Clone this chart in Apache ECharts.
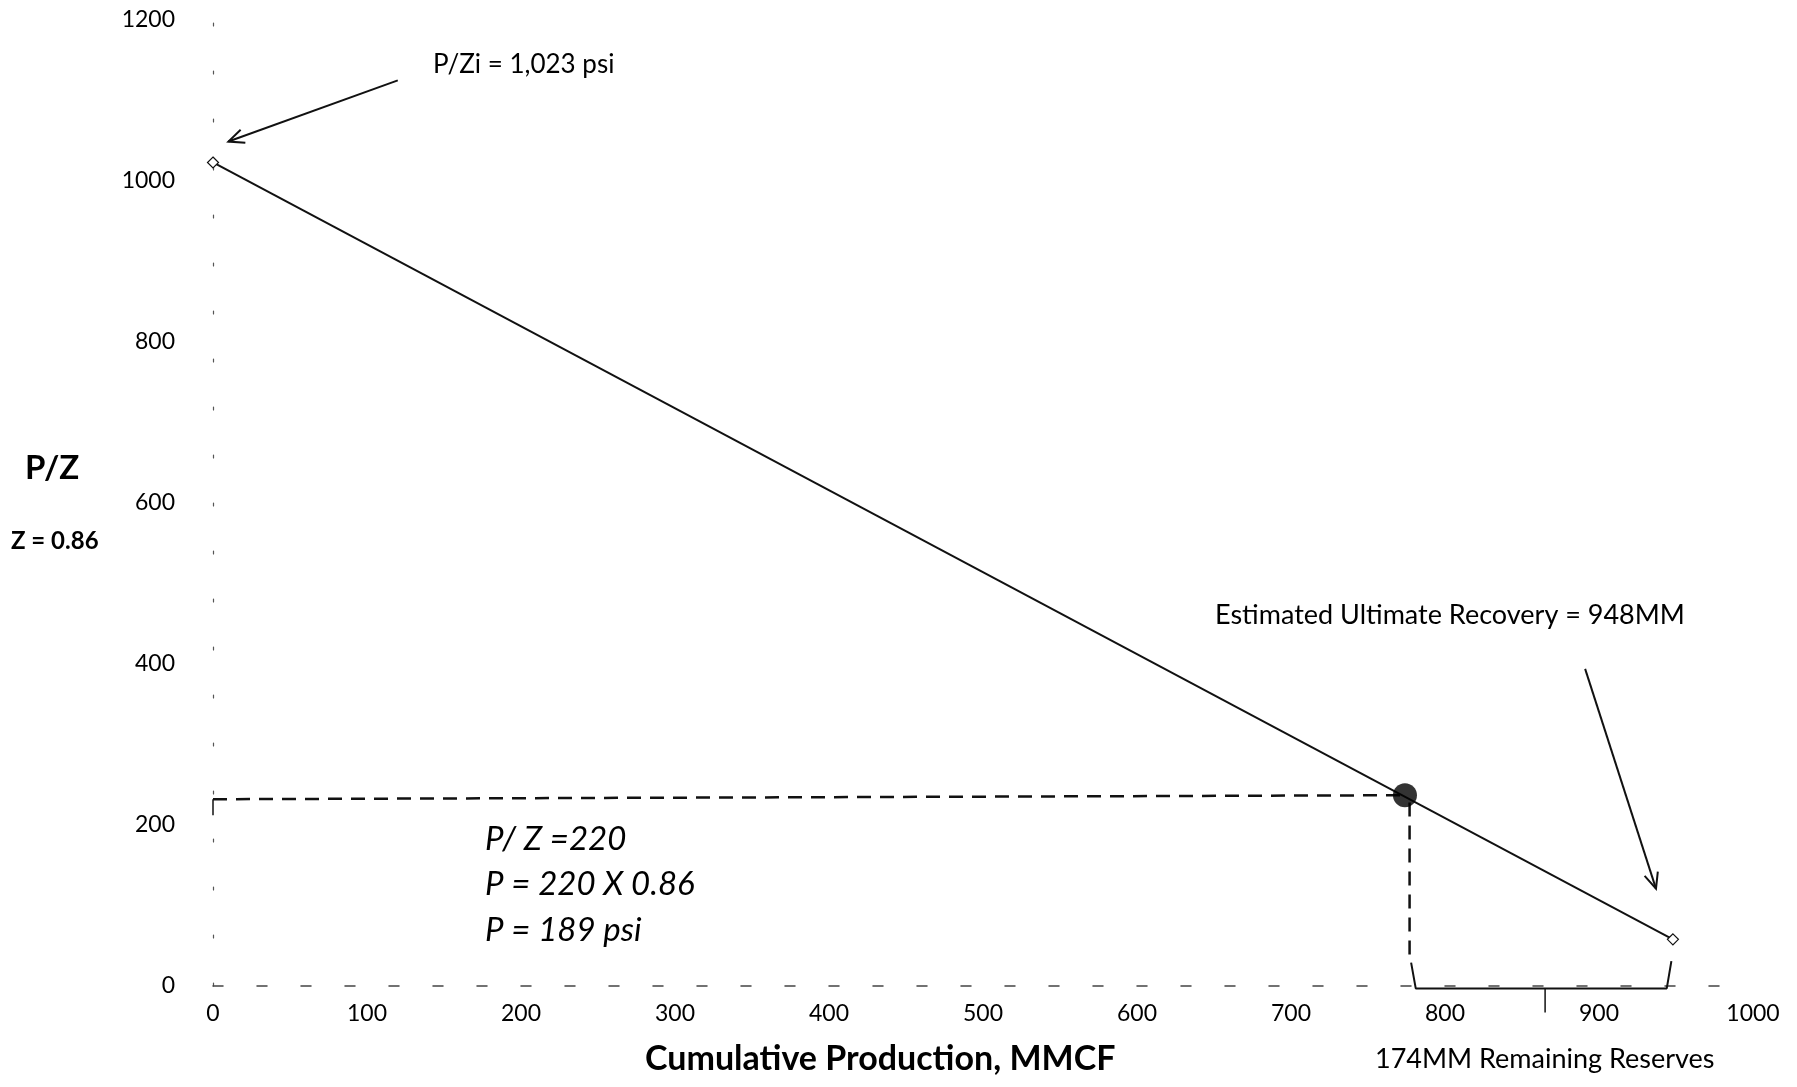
<!DOCTYPE html>
<html>
<head>
<meta charset="utf-8">
<script src="https://cdn.jsdelivr.net/npm/echarts@6/dist/echarts.min.js"></script>
<style>
  html, body { margin: 0; padding: 0; background: #fff; }
  #chart { width: 1797px; height: 1087px; }
</style>
</head>
<body>
<div id="chart"></div>
<script>
// ---- data ----
const xTicks = [0, 100, 200, 300, 400, 500, 600, 700, 800, 900, 1000];
const yTicks = [0, 200, 400, 600, 800, 1000, 1200];
// straight-line P/Z extrapolation: initial P/Zi and ultimate recovery point
const fitCumProd = [0, 948];
const fitPZ = [1023, 58];
// current point on the line
const currentCumProd = [774];
const currentPZ = [237];
// dashed reading guides
const guideHX = [0, 774];
const guideHY = [232, 237];
const guideCornerX = [0, 0];
const guideCornerY = [232, 212];
const guideVX = [777, 777];
const guideVY = [228, 29];
// bracket marking remaining reserves (774 -> 948)
const bracketX = [778, 781, 944, 947];
const bracketY = [29, -3, -3, 31];
const bracketTickX = [865, 865];
const bracketTickY = [-3, -33];
// annotation arrows [tailX, tailY, headX, headY]
const arrowPZi = [120, 1125, 10, 1049];
const arrowEUR = [891, 394, 937, 121];

const FONT = 'Lato, "Open Sans", sans-serif';
const toPairs = (xs, ys) => xs.map((x, i) => [x, ys[i]]);

const chart = echarts.init(document.getElementById('chart'), null, { renderer: 'canvas' });

function arrowRender(params, api) {
  const p1 = api.coord([api.value(0), api.value(1)]);
  const p2 = api.coord([api.value(2), api.value(3)]);
  const ang = Math.atan2(p2[1] - p1[1], p2[0] - p1[0]);
  const L = 17, a = 0.42;
  const h1 = [p2[0] - L * Math.cos(ang - a), p2[1] - L * Math.sin(ang - a)];
  const h2 = [p2[0] - L * Math.cos(ang + a), p2[1] - L * Math.sin(ang + a)];
  return {
    type: 'group',
    children: [
      { type: 'line', shape: { x1: p1[0], y1: p1[1], x2: p2[0], y2: p2[1] },
        style: { stroke: '#111', lineWidth: 2 } },
      { type: 'polyline', shape: { points: [h1, p2, h2] },
        style: { stroke: '#111', lineWidth: 2, fill: null } }
    ]
  };
}

const option = {
  backgroundColor: '#fff',
  animation: false,
  grid: { left: 213, right: 44, top: 20, bottom: 101 },
  xAxis: {
    type: 'value', min: xTicks[0], max: xTicks[xTicks.length - 1], interval: 100,
    axisLine: { show: true, lineStyle: { color: '#444', width: 1.5, type: [10, 34] } },
    axisTick: { show: false },
    splitLine: { show: false },
    axisLabel: { fontSize: 23, color: '#000', fontFamily: FONT, margin: 16, formatter: v => String(v) }
  },
  yAxis: {
    type: 'value', min: yTicks[0], max: yTicks[yTicks.length - 1], interval: 200,
    axisLine: { show: true, lineStyle: { color: '#555', width: 1.2, type: [3, 45] } },
    axisTick: { show: false },
    splitLine: { show: false },
    axisLabel: { fontSize: 23, color: '#000', fontFamily: FONT, margin: 38, formatter: v => String(v) }
  },
  series: [
    {
      type: 'line', name: 'P/Z line', data: toPairs(fitCumProd, fitPZ),
      lineStyle: { color: '#111', width: 2 },
      symbol: 'diamond', symbolSize: 11, showSymbol: true,
      itemStyle: { color: '#fff', borderColor: '#111', borderWidth: 1.2 },
      clip: false, z: 3
    },
    {
      type: 'line', name: 'guide-h', data: toPairs(guideHX, guideHY),
      lineStyle: { color: '#111', width: 2.5, type: [14, 9] },
      symbol: 'none', clip: false, z: 2
    },
    {
      type: 'line', name: 'guide-corner', data: toPairs(guideCornerX, guideCornerY),
      lineStyle: { color: '#111', width: 1.5 },
      symbol: 'none', clip: false, z: 2
    },
    {
      type: 'line', name: 'guide-v', data: toPairs(guideVX, guideVY),
      lineStyle: { color: '#111', width: 2.5, type: [14, 9] },
      symbol: 'none', clip: false, z: 2
    },
    {
      type: 'line', name: 'bracket', data: toPairs(bracketX, bracketY),
      lineStyle: { color: '#111', width: 2 },
      symbol: 'none', clip: false, z: 2
    },
    {
      type: 'line', name: 'bracket-tick', data: toPairs(bracketTickX, bracketTickY),
      lineStyle: { color: '#111', width: 1.5 },
      symbol: 'none', clip: false, z: 2
    },
    {
      type: 'scatter', name: 'current', data: toPairs(currentCumProd, currentPZ),
      symbol: 'circle', symbolSize: 24,
      itemStyle: { color: '#000' }, z: 5, clip: false
    },
    {
      type: 'custom', name: 'arrows', renderItem: arrowRender,
      data: [arrowPZi, arrowEUR],
      encode: { x: [0, 2], y: [1, 3] }, clip: false, z: 4
    }
  ],
  graphic: [
    { type: 'text', left: 433, top: 52, style: { text: 'P/Zi = 1,023 psi', font: '26px ' + FONT, fill: '#000' } },
    { type: 'text', left: 1215, top: 602, style: { text: 'Estimated Ultimate Recovery = 948MM', font: '27px ' + FONT, fill: '#000' } },
    { type: 'text', left: 485, top: 823, style: { text: 'P/ Z =220', font: 'italic 33px ' + FONT, fill: '#000' } },
    { type: 'text', left: 485, top: 868, style: { text: 'P = 220 X 0.86', font: 'italic 33px ' + FONT, fill: '#000' } },
    { type: 'text', left: 485, top: 914, style: { text: 'P = 189 psi', font: 'italic 33px ' + FONT, fill: '#000' } },
    { type: 'text', left: 25, top: 452, style: { text: 'P/Z', font: 'bold 33px ' + FONT, fill: '#000' } },
    { type: 'text', left: 11, top: 529, style: { text: 'Z = 0.86', font: 'bold 24px ' + FONT, fill: '#000' } },
    { type: 'text', left: 645, top: 1042, style: { text: 'Cumulative Production, MMCF', font: 'bold 34px ' + FONT, fill: '#000' } },
    { type: 'text', left: 1375, top: 1046, style: { text: '174MM Remaining Reserves', font: '27px ' + FONT, fill: '#000' } }
  ]
};

chart.setOption(option);
</script>
</body>
</html>
